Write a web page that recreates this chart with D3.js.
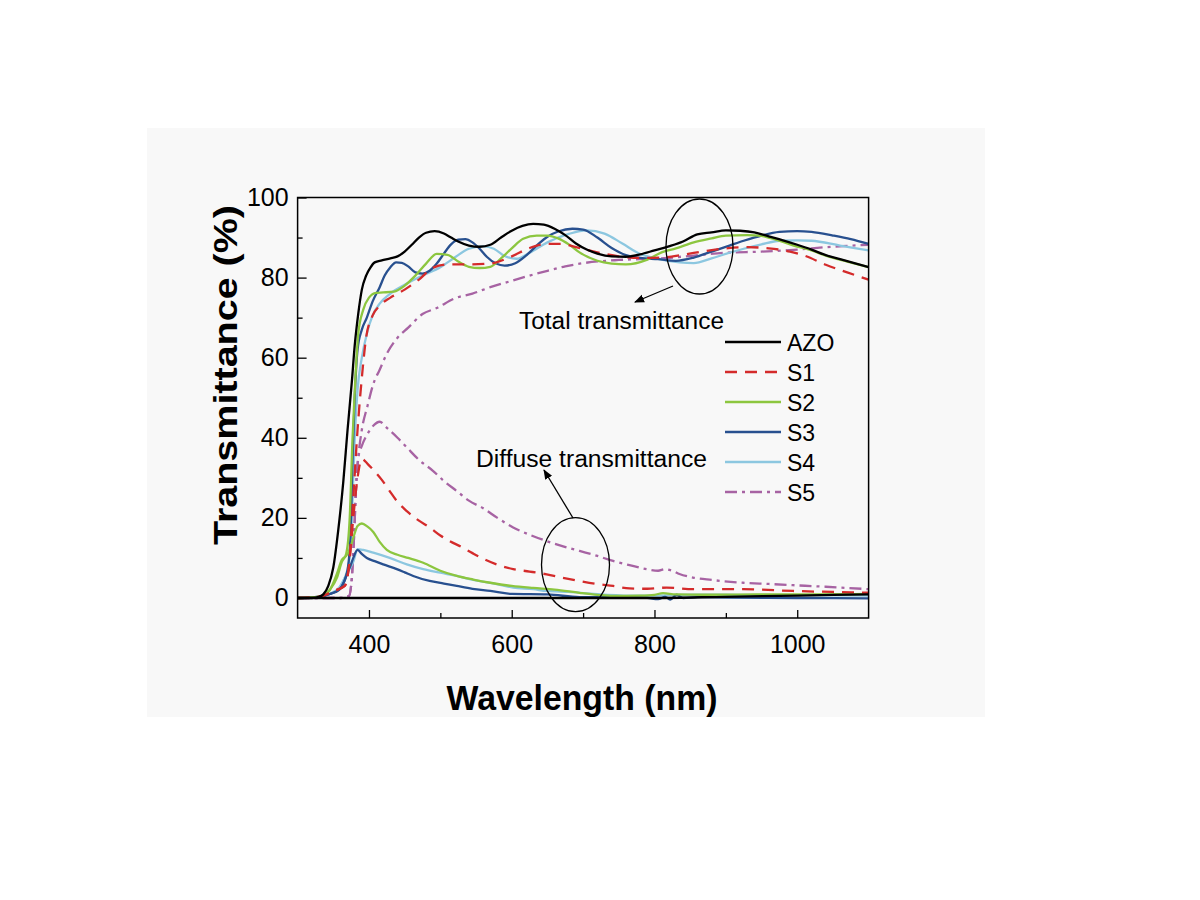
<!DOCTYPE html>
<html><head><meta charset="utf-8">
<script src="https://cdn.jsdelivr.net/npm/d3@7"></script>
<style>body{margin:0;background:#fff} text{font-family:"Liberation Sans",Arial,sans-serif}</style>
</head><body><svg id="c" width="1200" height="900"></svg>
<script>
// ---------- data ----------
const xTicks = [400, 600, 800, 1000];
const xMinorTicks = [500, 700, 900];
const yTicks = [0, 20, 40, 60, 80, 100];
const yMinorTicks = [10, 30, 50, 70, 90];
const seriesNames = ["AZO", "S1", "S2", "S3", "S4", "S5"];
const xLabel = "Wavelength (nm)";
const yLabel = "Transmittance (%)";
const totalLabel = "Total transmittance";
const diffuseLabel = "Diffuse transmittance";

// total transmittance [wavelength nm, T %]
const totalAZO = [[300,0],[320,0],[330,0.3],[336,0.9],[343,3],[350,7.6],[357,17],[364,29],[370,42],[376,54],[380,63],[385,71],[390,77],[396,80.5],[402,82.5],[408,83.8],[418,84.3],[430,84.8],[440,85.3],[450,86.5],[460,88.2],[470,90],[480,91.2],[492,91.6],[505,91],[515,90],[525,89],[540,88],[555,87.7],[570,88.2],[585,90],[600,91.7],[615,92.9],[630,93.4],[645,93.2],[660,92.2],[675,90.6],[690,88.5],[705,87],[720,86],[740,85.3],[760,85.2],[780,85.8],[800,86.8],[820,87.8],[840,89],[860,90.8],[880,91.3],[900,91.8],[920,91.7],[940,91.3],[960,90.3],[980,89.3],[1000,88.2],[1020,87],[1040,85.6],[1060,84.6],[1080,83.6],[1100,82.6]];
const totalS1 = [[300,0],[330,0.3],[350,1.7],[366,3],[372,8],[378,25],[384,42],[390,55],[396,65],[405,70.5],[415,73],[430,75],[450,77],[470,79.5],[490,82.5],[510,83.3],[540,83.3],[570,83.5],[600,85.3],[625,87.4],[650,88.4],[670,88.4],[690,87.6],[720,86.3],[750,85.3],[780,84.9],[810,85],[840,85.7],[870,86.6],[900,87.3],[930,87.6],[960,87.3],[990,86.5],[1010,85.5],[1040,83.2],[1070,81.3],[1100,79.5]];
const totalS2 = [[300,0],[330,0.3],[345,2],[355,5],[362,9],[368,11],[373,20],[377,40],[381,55],[385,66],[392,72],[400,75],[410,76.2],[420,76.3],[435,76.5],[450,78],[465,80.5],[480,83.5],[495,85.9],[510,85.7],[525,84],[540,82.7],[555,82.4],[570,82.7],[585,84.8],[600,87.3],[616,89.7],[635,90.5],[650,90.5],[665,89.8],[680,88.3],[695,86.3],[720,84.2],[740,83.5],[760,83.3],[790,84.5],[810,86.3],[830,87.3],[855,88.8],[880,89.8],[900,90.5],[930,90.6],[950,90.4],[970,89.5],[995,88],[1020,86.8],[1040,85.5],[1070,84],[1100,82.6]];
const totalS3 = [[300,0],[330,0.3],[345,1],[358,2],[365,4],[370,7],[374,15],[377,35],[380,50],[384,62],[390,67],[397,70],[405,74],[415,77.6],[422,80.5],[430,82.6],[438,83.8],[446,83.7],[455,82.8],[465,81.3],[475,81],[485,81.7],[495,83.5],[505,86],[515,88.3],[525,89.5],[535,89.6],[545,88.8],[555,87.2],[565,85.2],[578,83.5],[590,83],[605,83.6],[620,85.5],[635,88],[650,90.2],[665,91.5],[685,92.2],[700,92],[720,90],[740,87.4],[760,85.6],[780,84.9],[805,84.6],[830,84.2],[855,85],[880,86.5],[905,88],[925,89.2],[950,90.5],[975,91.4],[1000,91.6],[1020,91.4],[1050,90.5],[1075,89.6],[1100,88.4]];
const totalS4 = [[300,0],[330,0.3],[345,1],[358,2.5],[366,5],[372,9],[376,20],[380,40],[384,52],[390,60],[397,66],[405,70.5],[415,73.5],[430,76],[450,78.2],[475,80.5],[500,82.6],[520,85],[540,87.2],[560,87.8],[575,87.2],[590,85.4],[607,84.7],[625,86.2],[650,88.8],[680,90.9],[705,91.8],[730,91],[755,88.5],[780,85.9],[805,84.7],[835,83.8],[855,83.6],[880,84.8],[905,86.2],[925,87.2],[950,88.3],[975,89.2],[1000,89.3],[1020,89.2],[1060,88],[1100,86.8]];
const totalS5 = [[300,0],[340,0],[360,0],[372,0.5],[376,5],[379,15],[382,28],[385,35],[390,42],[398,48],[406,53.4],[415,57],[425,61],[440,65],[455,67.5],[475,70.9],[495,72.4],[520,74.8],[545,76],[570,77.6],[600,79.2],[625,80.5],[650,81.7],[675,82.8],[700,83.6],[750,84.4],[810,84.8],[855,85.5],[900,86.2],[950,86.5],[1000,87],[1040,87.6],[1100,88.2]];

// diffuse transmittance
const diffuseAZO = [[300,0],[400,0],[600,0],[800,0],[900,0.3],[1000,0.6],[1100,0.9]];
const diffuseS1 = [[300,0],[330,0.3],[350,1.7],[366,3],[372,8],[378,20],[384,30],[390,34.7],[398,33.5],[406,32],[418,29.5],[429,26.7],[440,24],[453,21.7],[470,19.3],[485,17.6],[500,15.6],[513,14.2],[530,12.7],[545,11.2],[560,9.8],[580,8.3],[602,7.2],[625,6.6],[649,5.9],[670,5.1],[695,4.25],[720,3.5],[742,3],[765,2.4],[790,2.3],[817,2.6],[854,2.2],[924,2.2],[994,1.75],[1050,1.5],[1100,1.3]];
const diffuseS2 = [[300,0],[330,0.3],[345,2],[355,6],[362,9.5],[368,10.5],[373,12],[378,15],[384,18],[390,18.6],[398,17.8],[406,16.5],[415,14],[425,12],[440,10.8],[455,10],[476,8.8],[500,6.8],[523,5.5],[546,4.6],[570,3.8],[600,3],[630,2.5],[660,2.1],[695,1.3],[720,0.8],[742,0.5],[780,0.6],[800,0.8],[812,1.2],[830,0.9],[870,0.8],[950,0.9],[1020,0.9],[1100,1]];
const diffuseS3 = [[300,0],[330,0.3],[345,1],[358,2],[365,4],[370,6.5],[374,8],[378,10],[384,12],[390,11],[397,10],[408,9.2],[420,8.4],[439,7.2],[450,6.4],[462,5.5],[485,4.25],[505,3.6],[523,3],[545,2.3],[570,1.75],[600,1],[650,0.9],[695,0.2],[750,0.2],[790,0],[805,-0.3],[815,0.3],[822,-0.4],[831,0.8],[840,0],[860,0.2],[900,0.1],[1000,0],[1100,-0.1]];
const diffuseS4 = [[300,0],[330,0.3],[345,1],[358,2.5],[366,5],[372,7],[378,9],[384,12.2],[392,12],[406,11.3],[429,10],[453,8.4],[476,7.2],[500,6.3],[523,5.5],[546,4.5],[570,3.8],[602,2.6],[630,2.2],[649,1.75],[680,1.5],[710,1.1],[765,0.6],[800,0.6],[850,0.8],[900,0.8],[1000,0.7],[1100,0.6]];
const diffuseS5 = [[300,0],[340,0],[360,0],[372,0.5],[376,5],[379,15],[382,28],[385,35],[390,38],[398,41],[406,43],[415,44],[425,42.5],[440,40],[453,37.6],[470,34.5],[490,31.7],[505,29.2],[523,26.7],[540,24.3],[560,22.4],[580,20],[602,17.6],[625,15.8],[649,14.2],[672,12.9],[695,11.75],[720,10.5],[742,9.25],[765,8.2],[789,7.2],[805,6.8],[815,7.2],[825,6.8],[835,6],[854,5.1],[880,4.5],[924,3.8],[960,3.5],[994,3.2],[1040,2.8],[1100,2.2]];

// ---------- styles ----------
const colors = {AZO:"#000000", S1:"#d42b2b", S2:"#8cc63f", S3:"#28508f", S4:"#8cc7e0", S5:"#a763a3"};
const dashes = {AZO:null, S1:"12,8", S2:null, S3:null, S4:null, S5:"12,5,3,5"};
const totals = {AZO:totalAZO, S1:totalS1, S2:totalS2, S3:totalS3, S4:totalS4, S5:totalS5};
const diffuses = {AZO:diffuseAZO, S1:diffuseS1, S2:diffuseS2, S3:diffuseS3, S4:diffuseS4, S5:diffuseS5};

const svg = d3.select("#c");
const L = 297.6, R = 868.6, T = 197.5, B = 618;

svg.append("rect").attr("x",147).attr("y",128).attr("width",838).attr("height",589).attr("fill","#f8f8f8");

const x = d3.scaleLinear().domain([300,1100]).range([L,R]);
const y = d3.scaleLinear().domain([-5,100]).range([B,T]);

svg.append("defs").append("clipPath").attr("id","clip")
  .append("rect").attr("x",L).attr("y",T).attr("width",R-L).attr("height",B-T);

const line = d3.line().x(d=>x(d[0])).y(d=>y(d[1])).curve(d3.curveMonotoneX);
const g = svg.append("g").attr("clip-path","url(#clip)");
const order = ["S5","S4","S3","S2","S1","AZO"];
order.forEach(k=>{
  [totals[k], diffuses[k]].forEach(data=>{
    g.append("path").attr("d", line(data)).attr("fill","none")
      .attr("stroke", colors[k]).attr("stroke-width", 2.3)
      .attr("stroke-dasharray", dashes[k]).attr("stroke-linejoin","round");
  });
});

// axes
const fs = "25px";
const fmt = d3.format("d");
const yAx = svg.append("g").attr("transform",`translate(${L},0)`)
  .call(d3.axisLeft(y).tickValues(yTicks).tickFormat(fmt).tickSizeInner(-9).tickSizeOuter(0).tickPadding(9));
const yMin = svg.append("g").attr("transform",`translate(${L},0)`)
  .call(d3.axisLeft(y).tickValues(yMinorTicks).tickSizeInner(-5).tickSizeOuter(0).tickFormat(""));
const xAx = svg.append("g").attr("transform",`translate(0,${B})`)
  .call(d3.axisBottom(x).tickValues(xTicks).tickFormat(fmt).tickSizeInner(-8).tickSizeOuter(0).tickPadding(17));
const xMin = svg.append("g").attr("transform",`translate(0,${B})`)
  .call(d3.axisBottom(x).tickValues(xMinorTicks).tickSizeInner(-5).tickSizeOuter(0).tickFormat(""));
[yAx,yMin,xAx,xMin].forEach(a=>{
  a.select(".domain").remove();
  a.selectAll("line").attr("stroke","#000").attr("stroke-width",1.3);
  a.selectAll("text").attr("font-size",fs).attr("fill","#000").attr("font-family","'Liberation Sans',Arial,sans-serif");
});

svg.append("rect").attr("x",L).attr("y",T).attr("width",R-L).attr("height",B-T)
  .attr("fill","none").attr("stroke","#000").attr("stroke-width",1.5);

// axis titles
svg.append("text").attr("x",582).attr("y",710).attr("text-anchor","middle")
  .attr("font-size","35px").attr("font-weight","bold")
  .attr("textLength",271).attr("lengthAdjust","spacingAndGlyphs").text(xLabel);
svg.append("text").attr("transform","translate(237,375) rotate(-90)").attr("text-anchor","middle")
  .attr("font-size","33px").attr("font-weight","bold")
  .attr("textLength",340).attr("lengthAdjust","spacingAndGlyphs").text(yLabel);

// legend
seriesNames.forEach((k,i)=>{
  const yy = 342 + i*30;
  svg.append("line").attr("x1",725).attr("x2",781).attr("y1",yy).attr("y2",yy)
    .attr("stroke",colors[k]).attr("stroke-width",2.3).attr("stroke-dasharray",dashes[k]);
  svg.append("text").attr("x",787).attr("y",yy+8.5).attr("font-size","23px").text(k);
});

// annotations
svg.append("text").attr("x",519).attr("y",329).attr("font-size","23px")
  .attr("textLength",205).attr("lengthAdjust","spacingAndGlyphs").text(totalLabel);
svg.append("text").attr("x",476).attr("y",467).attr("font-size","23px")
  .attr("textLength",231).attr("lengthAdjust","spacingAndGlyphs").text(diffuseLabel);

svg.append("ellipse").attr("cx",699.5).attr("cy",246.5).attr("rx",33.5).attr("ry",47.5)
  .attr("fill","none").attr("stroke","#000").attr("stroke-width",1.3);
svg.append("ellipse").attr("cx",575.5).attr("cy",564.7).attr("rx",34).attr("ry",47)
  .attr("fill","none").attr("stroke","#000").attr("stroke-width",1.3);

const defs = svg.select("defs");
defs.append("marker").attr("id","arr").attr("viewBox","0 0 10 10").attr("refX",9).attr("refY",5)
  .attr("markerWidth",10).attr("markerHeight",10).attr("markerUnits","userSpaceOnUse").attr("orient","auto")
  .append("path").attr("d","M0,1 L10,5 L0,9 Z").attr("fill","#000");
svg.append("line").attr("x1",673).attr("y1",286).attr("x2",635).attr("y2",302)
  .attr("stroke","#000").attr("stroke-width",1.3).attr("marker-end","url(#arr)");
svg.append("line").attr("x1",573).attr("y1",518).attr("x2",544).attr("y2",470)
  .attr("stroke","#000").attr("stroke-width",1.3).attr("marker-end","url(#arr)");
</script></body></html>
